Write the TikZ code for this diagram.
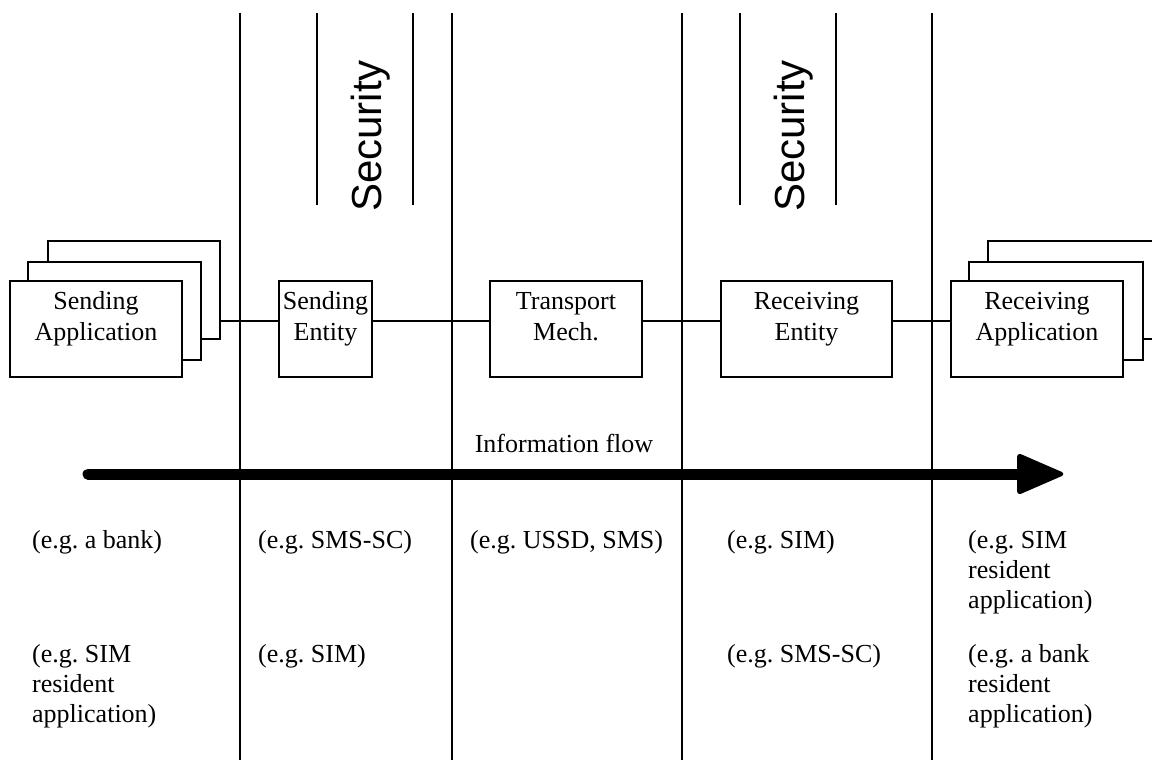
\documentclass[tikz,border=0pt]{standalone}
\usepackage{fontspec}
\setmainfont{Liberation Serif}
\newfontfamily\secfont{Liberation Sans}
\frenchspacing
\begin{document}
\begin{tikzpicture}[x=1pt,y=-1pt,
  box/.style={draw, line width=1.8pt, fill=white, inner sep=0pt, outer sep=0pt, anchor=north west},
  boxtxt/.style={inner sep=0pt, anchor=north, align=center, font=\fontsize{26}{31}\selectfont},
  note/.style={inner sep=0pt, anchor=north west, align=left, font=\fontsize{26}{30}\selectfont},
  sep/.style={line width=1.2pt},
  conn/.style={line width=1.8pt},
  sec/.style={inner sep=0pt, rotate=90, anchor=base west, font=\secfont\fontsize{42}{50}\selectfont},
  flow/.style={line width=11pt, line cap=round}
]
\clip (0,0) rectangle (1152,760);
\useasboundingbox (0,0) rectangle (1152,760);

% column separators
\foreach \x in {240,452,682,932} \draw[sep] (\x,13) -- (\x,760);
% security bars
\foreach \x in {317,413,740,836} \draw[sep] (\x,13) -- (\x,205);
\node[sec] (sec1) at (381,212) {Security};
\node[sec] (sec2) at (804,212) {Security};

% sending application stack
\node[box, minimum width=172pt, minimum height=98pt] (sa3) at (48,241) {};
\node[box, minimum width=173pt, minimum height=98pt] (sa2) at (28,262) {};
\node[box, minimum width=172pt, minimum height=96pt] (sa1) at (10,281) {};
\node[boxtxt] (sat) at ([yshift=-7pt]sa1.north) {\strut Sending\\Application};

% sending entity
\node[box, minimum width=93pt, minimum height=96pt] (se) at (279,281) {};
\node[boxtxt] (set) at ([yshift=-7pt]se.north) {\strut Sending\\Entity};

% transport
\node[box, minimum width=152pt, minimum height=96pt] (tm) at (490,281) {};
\node[boxtxt] (tmt) at ([yshift=-7pt]tm.north) {\strut Transport\\Mech.};

% receiving entity
\node[box, minimum width=171pt, minimum height=96pt] (re) at (721,281) {};
\node[boxtxt] (ret) at ([yshift=-7pt]re.north) {\strut Receiving\\Entity};

% receiving application stack
\node[box, minimum width=220pt, minimum height=98pt] (ra3) at (988,241) {};
\node[box, minimum width=174pt, minimum height=98pt] (ra2) at (969,262) {};
\node[box, minimum width=172pt, minimum height=96pt] (ra1) at (951,281) {};
\node[boxtxt] (rat) at ([yshift=-7pt]ra1.north) {\strut Receiving\\Application};

% connectors
\draw[conn] ([yshift=-31pt]sa3.east) -- ([yshift=8pt]se.west);
\draw[conn] ([yshift=8pt]se.east) -- ([yshift=8pt]tm.west);
\draw[conn] ([yshift=8pt]tm.east) -- ([yshift=8pt]re.west);
\draw[conn] ([yshift=8pt]re.east) -- ([yshift=8pt]ra1.west);

% information flow
\node[inner sep=0pt, anchor=base, font=\fontsize{26}{31}\selectfont] (inf) at (564,452) {Information flow};
\coordinate (fs) at (88,474);
\coordinate (fe) at (1022,474);
\draw[flow] (fs) -- (fe);
\filldraw[line width=2pt, line join=round, rounded corners=3pt] (1018,454) -- (1064,474) -- (1018,494) -- cycle;

% notes
\node[note] (n11) at (32,527) {\strut(e.g. a bank)};
\node[note] (n12) at (258,527) {\strut(e.g. SMS-SC)};
\node[note] (n13) at (470,527) {\strut(e.g. USSD, SMS)};
\node[note] (n14) at (727,527) {\strut(e.g. SIM)};
\node[note] (n15) at (968,527) {\strut(e.g. SIM\\resident\\application)};
\node[note] (n21) at (32,641) {\strut(e.g. SIM\\resident\\application)};
\node[note] (n22) at (258,641) {\strut(e.g. SIM)};
\node[note] (n24) at (727,641) {\strut(e.g. SMS-SC)};
\node[note] (n25) at (968,641) {\strut(e.g. a bank\\resident\\application)};
\end{tikzpicture}
\end{document}
